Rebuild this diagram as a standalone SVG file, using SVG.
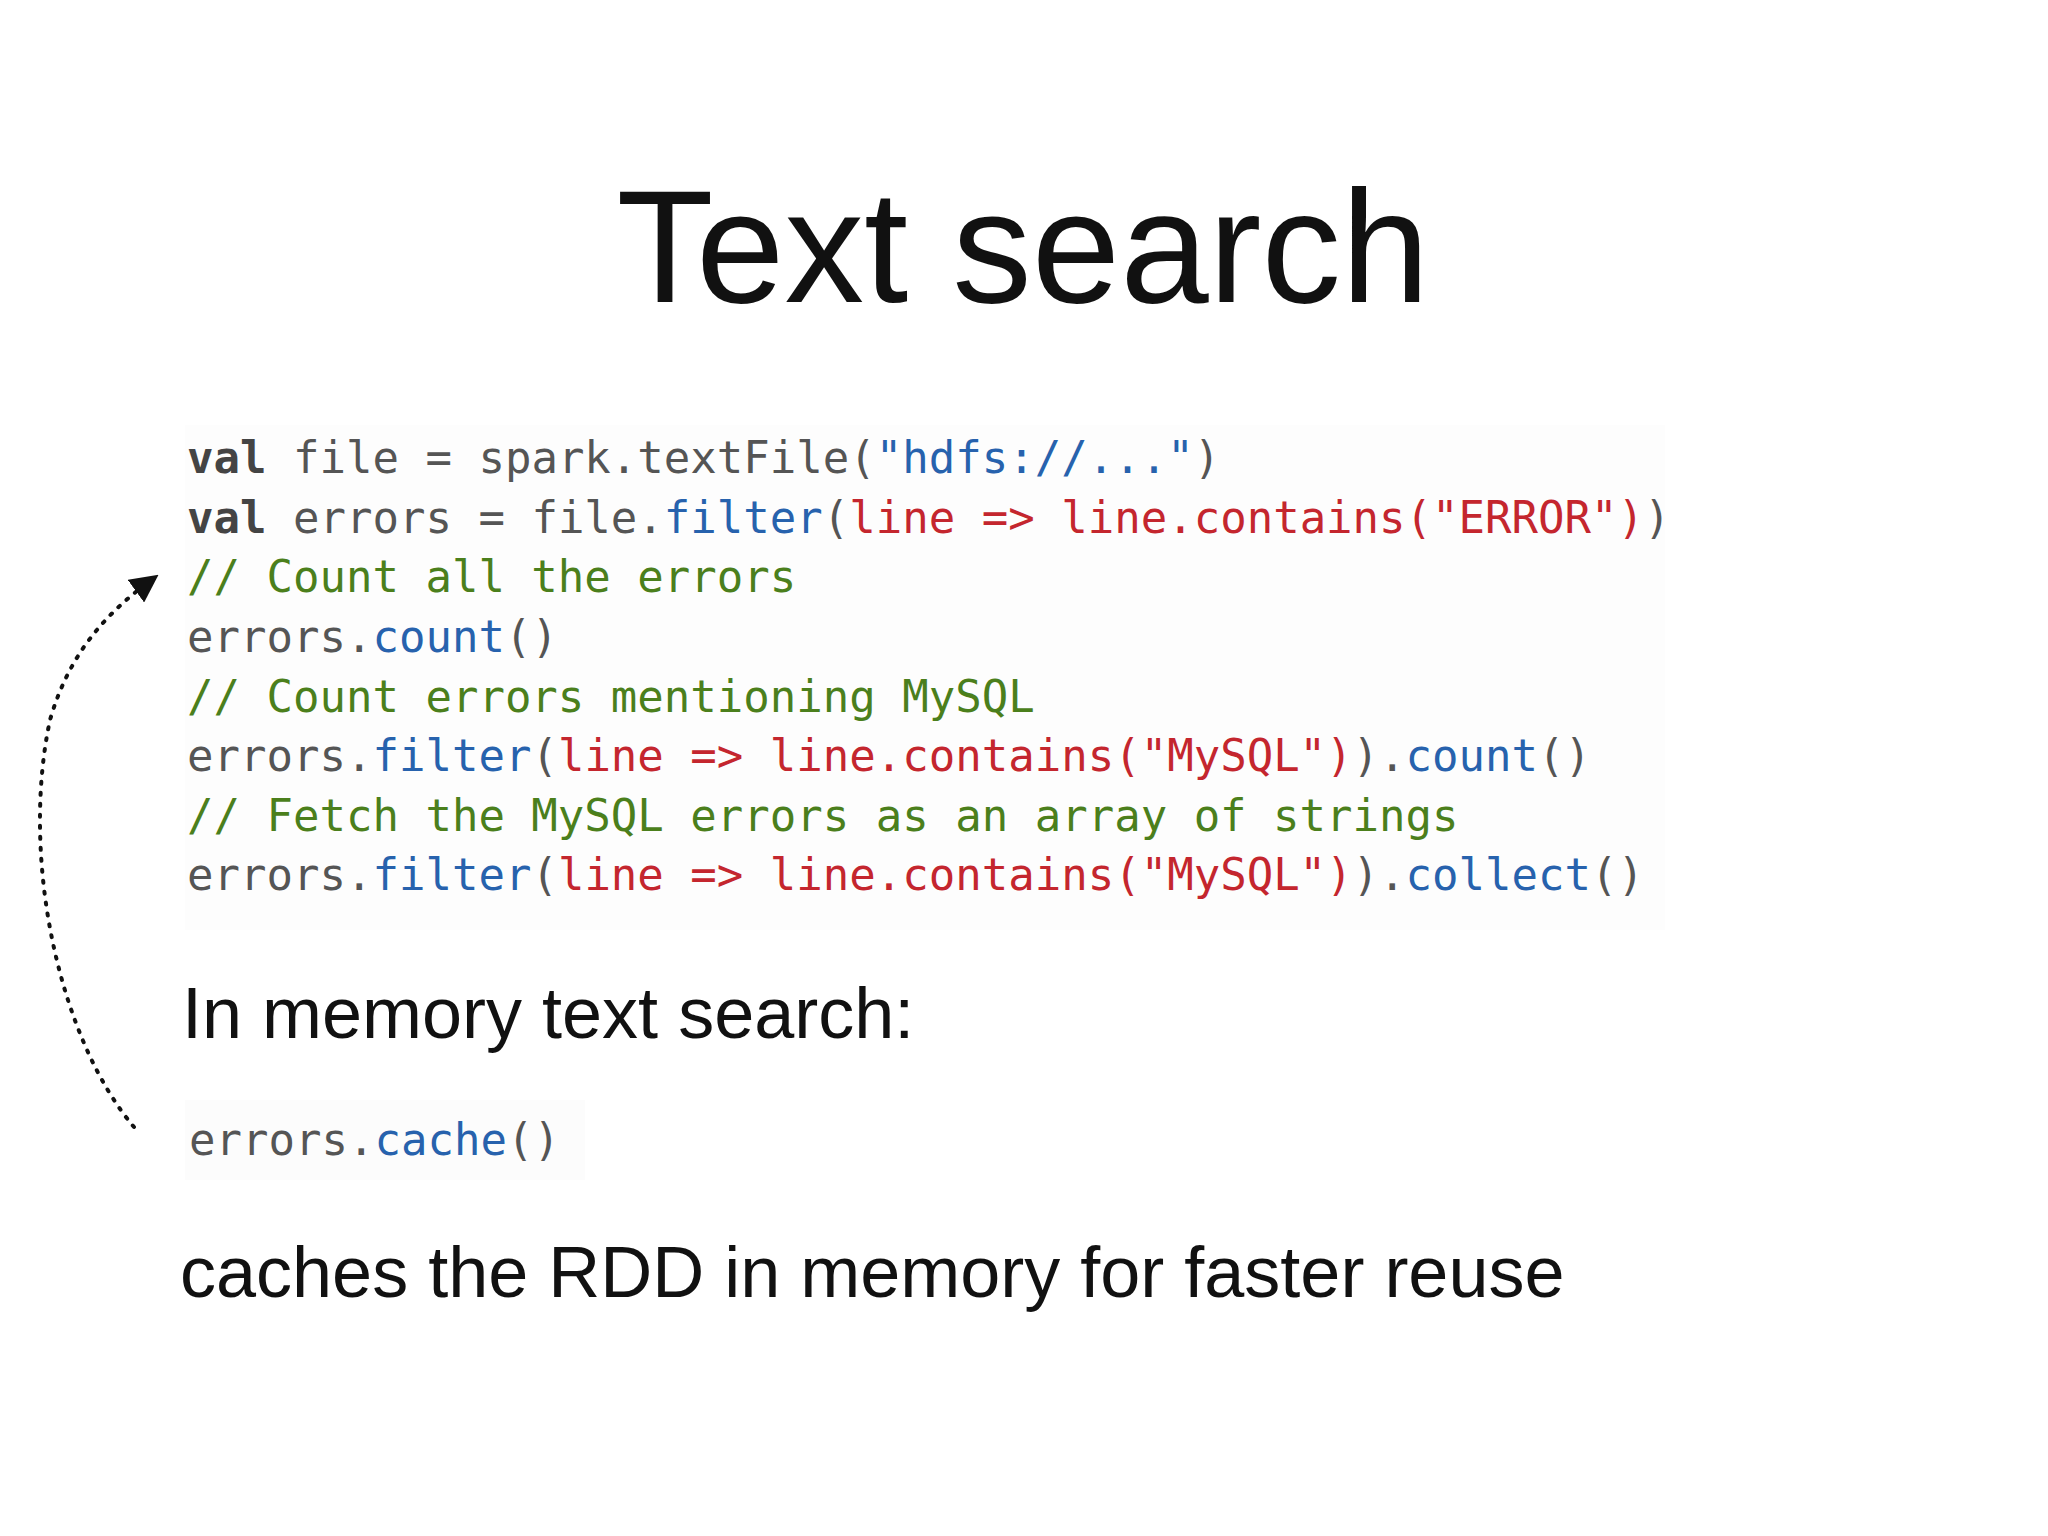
<svg xmlns="http://www.w3.org/2000/svg" width="2048" height="1536" viewBox="0 0 2048 1536">
<defs>
<style>
.code{font-family:"DejaVu Sans Mono","Liberation Mono",monospace;font-size:44px;fill:#555;}
.k{font-weight:bold;fill:#444;}
.b{fill:#2762ad;}
.r{fill:#c4262e;}
.g{fill:#4b7f1c;}
.t{font-family:"Liberation Sans",Arial,sans-serif;fill:#111;}
</style>
<marker id="ah" viewBox="0 0 10 10" refX="8" refY="5" markerWidth="7" markerHeight="7" orient="auto"><path d="M0,0 L10,5 L0,10 z" fill="#111"/></marker>
</defs>
<rect width="2048" height="1536" fill="#fff"/>
<rect x="185" y="425" width="1480" height="505" fill="#fdfdfd"/>
<rect x="185" y="1100" width="400" height="80" fill="#fcfcfc"/>
<text class="t" x="1023" y="302" font-size="159" text-anchor="middle">Text search</text>
<g id="code">
<text class="code" x="187" y="473"><tspan class="k">val</tspan> file = spark.textFile(<tspan class="b">"hdfs://..."</tspan>)</text>
<text class="code" x="187" y="533"><tspan class="k">val</tspan> errors = file.<tspan class="b">filter</tspan>(<tspan class="r">line =&gt; line.contains("ERROR")</tspan>)</text>
<text class="code g" x="187" y="592">// Count all the errors</text>
<text class="code" x="187" y="652">errors.<tspan class="b">count</tspan>()</text>
<text class="code g" x="187" y="712">// Count errors mentioning MySQL</text>
<text class="code" x="187" y="771">errors.<tspan class="b">filter</tspan>(<tspan class="r">line =&gt; line.contains("MySQL")</tspan>).<tspan class="b">count</tspan>()</text>
<text class="code g" x="187" y="831">// Fetch the MySQL errors as an array of strings</text>
<text class="code" x="187" y="890">errors.<tspan class="b">filter</tspan>(<tspan class="r">line =&gt; line.contains("MySQL")</tspan>).<tspan class="b">collect</tspan>()</text>
</g>
<text class="t" x="182" y="1038" font-size="72" fill="#222">In memory text search:</text>
<text class="code" x="189" y="1155">errors.<tspan class="b">cache</tspan>()</text>
<text class="t" x="180" y="1297" font-size="72" fill="#222">caches the RDD in memory for faster reuse</text>
<g id="connectors">
<path d="M134,1127 C60,1040 20,860 50,720 C70,650 110,610 154,578" fill="none" stroke="#111" stroke-width="4" stroke-dasharray="2,9" stroke-linecap="round" marker-end="url(#ah)"/>
</g>
</svg>
